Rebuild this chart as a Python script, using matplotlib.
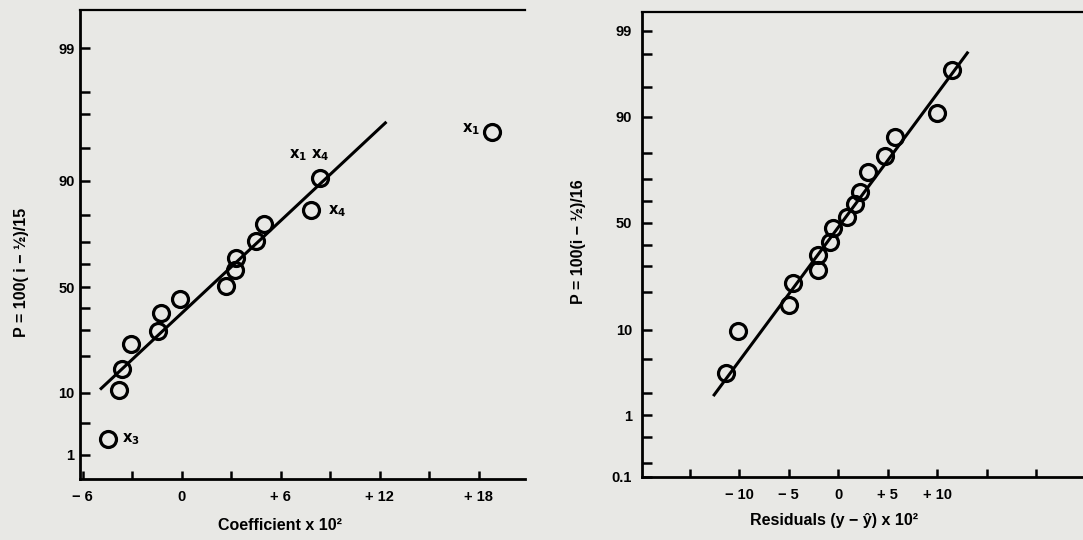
import numpy as np
import matplotlib.pyplot as plt

plt.rcParams['font.family'] = ['Liberation Sans', 'DejaVu Sans']
plt.rcParams['font.weight'] = 'bold'
plt.rcParams['mathtext.default'] = 'bf'

# left panel: coefficients (x 10^2) against plotting position P
coef = [-4.48, -3.80, -3.60, -3.10, -1.45, -1.28, -0.10, 2.70, 3.25, 3.26,
        4.50, 5.01, 7.85, 8.40, 18.8]
coef_p = [3.3, 11.3, 19.0, 28.4, 33.6, 40.2, 45.6, 50.4, 56.5, 61.2,
          67.4, 73.9, 79.0, 90.2, 93.3]
coef_fit_x = [-4.95, 12.4]
coef_fit_p = [11.3, 94.0]

# right panel: residuals (x 10^2)
resid = [-11.37, -10.10, -4.95, -4.55, -2.04, -2.04, -0.81, -0.51, 0.85, 1.69,
         2.19, 3.03, 4.72, 5.73, 9.94, 11.45]
resid_p = [5.4, 9.9, 19.3, 27.4, 32.3, 38.1, 42.9, 47.9, 52.3, 57.1,
           61.7, 69.2, 75.2, 82.5, 90.4, 94.9]
resid_fit_x = [-12.63, 13.13]
resid_fit_p = [3.0, 96.8]

# probability paper: labelled P values and their height on the paper
left_probs = [0.1, 1, 10, 50, 90, 99, 99.9]
left_heights = [0.0, 0.0512, 0.1834, 0.4083, 0.6358, 0.9186, 1.0]
right_probs = [0.1, 1, 10, 50, 90, 99, 99.9]
right_heights = [0.0, 0.1332, 0.3159, 0.5465, 0.7743, 0.9592, 1.0]

left_ylabels = [1, 10, 50, 90, 99]
left_yminor = [5.6, 24.0, 34.0, 42.2, 58.8, 67.1, 77.2, 92.2, 94.5, 96.0]
right_ylabels = [0.1, 1, 10, 50, 90, 99]
right_yminor = [0.31, 0.68, 3.3, 6.9, 24.1, 33.9, 41.7, 58.2, 66.4, 76.4, 93.1, 96.6]

left_xticks = [-6, 0, 6, 12, 18]
left_xtick_text = ['\u2212 6', '0', '+ 6', '+ 12', '+ 18']
left_xminor = [-3, 3, 9, 15]
right_xticks = [-10, -5, 0, 5, 10]
right_xtick_text = ['\u2212 10', '\u2212 5', '0', '+ 5', '+ 10']
right_xminor = [-15, 15, 20]

bg = '#e8e8e5'
fs = 10.5


def paper(ax, probs, heights):
    ax.set_yscale('function',
                  functions=(lambda p: np.interp(p, probs, heights),
                             lambda h: np.interp(h, heights, probs)))
    ax.set_ylim(0.1, 99.9)


def style(ax):
    ax.set_facecolor(bg)
    ax.spines['right'].set_visible(False)
    ax.spines['left'].set_linewidth(2.0)
    ax.spines['bottom'].set_linewidth(2.0)
    ax.spines['top'].set_linewidth(1.6)
    ax.tick_params(axis='y', which='both', direction='in', length=7, width=1.8,
                   labelsize=fs, pad=4)
    ax.tick_params(axis='x', which='both', direction='in', length=6, width=1.8,
                   labelsize=fs, pad=8)
    ax.tick_params(top=False, right=False)


fig = plt.figure(figsize=(10.83, 5.4), dpi=100, facecolor=bg)

# ---- left panel
ax1 = fig.add_axes([0.0739, 0.1130, 0.411, 0.8685])
paper(ax1, left_probs, left_heights)
ax1.set_xlim(-6.16, 20.8)
style(ax1)
ax1.set_yticks(left_ylabels, [str(v) for v in left_ylabels])
ax1.set_yticks(left_yminor, minor=True)
ax1.set_xticks(left_xticks, left_xtick_text)
ax1.set_xticks(left_xminor, minor=True)
ax1.plot(coef_fit_x, coef_fit_p, color='black', lw=2.2, solid_capstyle='butt')
ax1.plot(coef, coef_p, 'o', ms=11.5, mfc='none', mec='black', mew=2.3)
ax1.annotate('$x_3$', (coef[0], coef_p[0]), xytext=(10, 0), textcoords='offset points',
             ha='left', va='center', fontsize=fs)
ax1.annotate('$x_1\\ x_4$', (coef[13], coef_p[13]), xytext=(-8, 16), textcoords='offset points',
             ha='center', va='center', fontsize=fs)
ax1.annotate('$x_4$', (coef[12], coef_p[12]), xytext=(12, -1), textcoords='offset points',
             ha='left', va='center', fontsize=fs)
ax1.annotate('$x_1$', (coef[14], coef_p[14]), xytext=(-9, 2), textcoords='offset points',
             ha='right', va='center', fontsize=fs)
fig.text(280 / 1083, 1 - 525 / 540, 'Coefficient x 10\u00b2', ha='center', va='center',
         fontsize=fs + 1)
fig.text(22 / 1083, 1 - 272 / 540, 'P = 100( i \u2212 \u00bd)/15', rotation=90,
         ha='center', va='center', fontsize=fs + 1)

# ---- right panel
ax2 = fig.add_axes([0.5925, 0.1167, 0.4075, 0.8617])
paper(ax2, right_probs, right_heights)
ax2.set_xlim(-19.86, 24.72)
style(ax2)
ax2.set_yticks(right_ylabels, [str(v) for v in right_ylabels])
ax2.set_yticks(right_yminor, minor=True)
ax2.tick_params(axis='y', pad=7)
ax2.set_xticks(right_xticks, right_xtick_text)
ax2.set_xticks(right_xminor, minor=True)
ax2.plot(resid_fit_x, resid_fit_p, color='black', lw=2.2, solid_capstyle='butt')
ax2.plot(resid, resid_p, 'o', ms=11.5, mfc='none', mec='black', mew=2.3)
fig.text(834 / 1083, 1 - 521 / 540, 'Residuals (y \u2212 \u0177) x 10\u00b2', ha='center',
         va='center', fontsize=fs + 1)
fig.text(578 / 1083, 1 - 242 / 540, 'P = 100(i \u2212 \u00bd)/16', rotation=90,
         ha='center', va='center', fontsize=fs + 1)

fig.savefig('out.png', dpi=100, facecolor=bg)
